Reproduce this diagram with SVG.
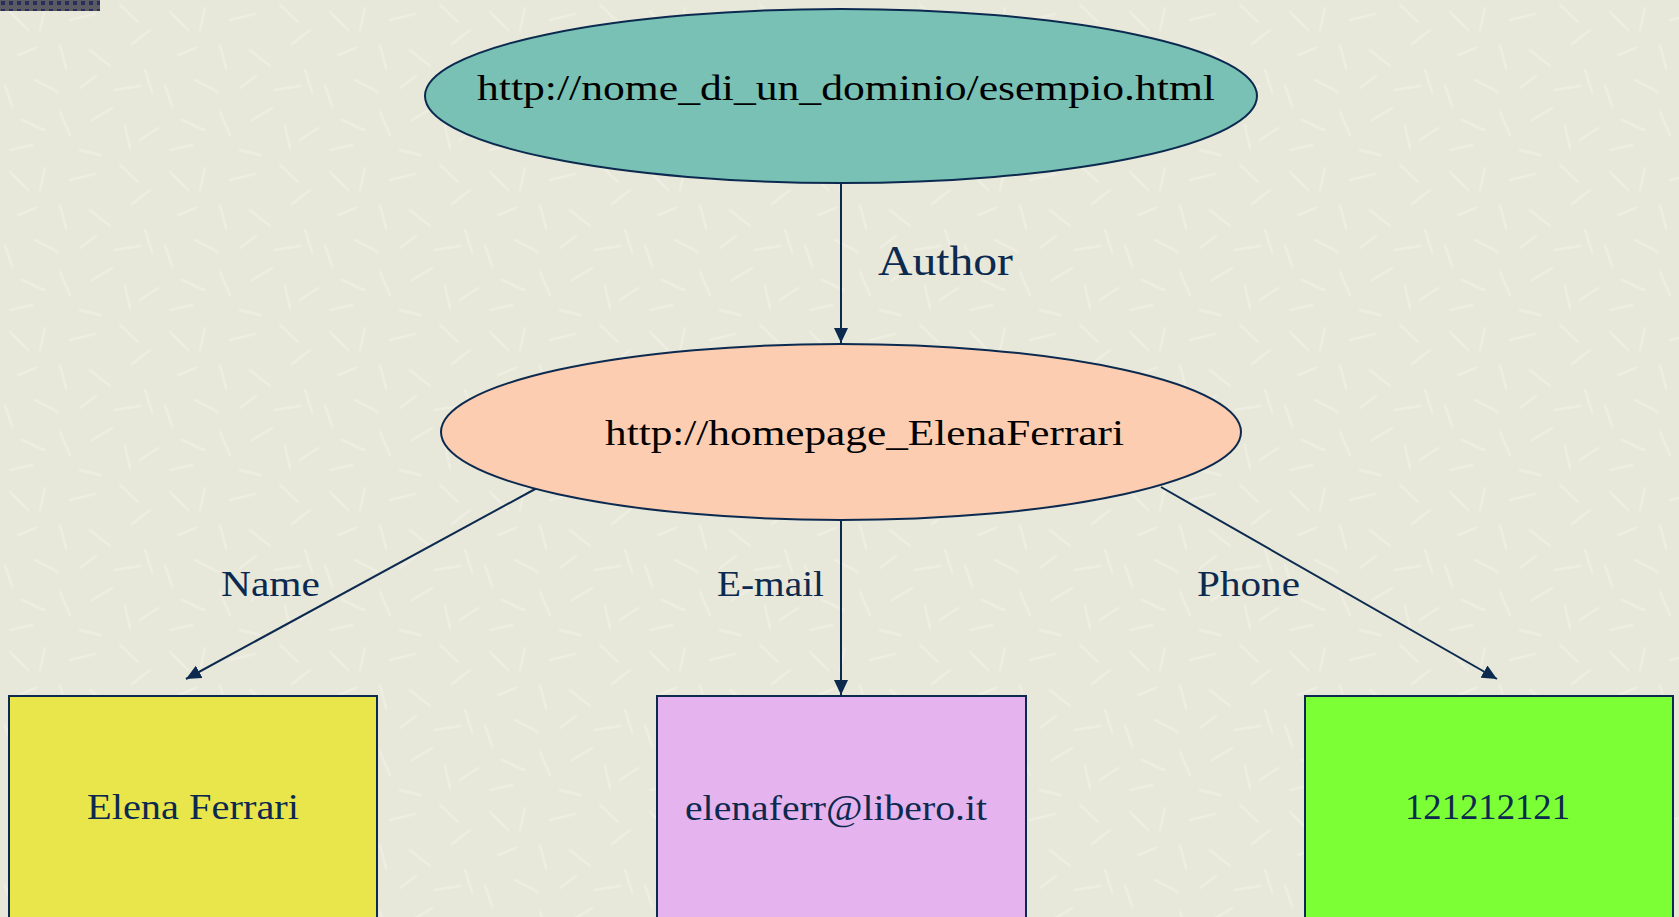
<svg xmlns="http://www.w3.org/2000/svg" width="1679" height="917" viewBox="0 0 1679 917">
  <defs>
    <pattern id="tex" width="160" height="160" patternUnits="userSpaceOnUse">
      <rect width="160" height="160" fill="#e7e7da"/>
      <g stroke="#f2f2e7" stroke-width="2.5" stroke-linecap="round" opacity="0.55">
        <line x1="10" y1="12" x2="28" y2="30"/>
        <line x1="45" y1="8" x2="40" y2="30"/>
        <line x1="70" y1="20" x2="95" y2="14"/>
        <line x1="120" y1="5" x2="138" y2="22"/>
        <line x1="150" y1="30" x2="132" y2="44"/>
        <line x1="18" y1="55" x2="36" y2="48"/>
        <line x1="60" y1="45" x2="66" y2="68"/>
        <line x1="90" y1="50" x2="110" y2="66"/>
        <line x1="5" y1="85" x2="12" y2="106"/>
        <line x1="35" y1="80" x2="58" y2="92"/>
        <line x1="80" y1="88" x2="96" y2="76"/>
        <line x1="115" y1="90" x2="140" y2="86"/>
        <line x1="145" y1="70" x2="152" y2="92"/>
        <line x1="22" y1="120" x2="44" y2="130"/>
        <line x1="60" y1="112" x2="70" y2="135"/>
        <line x1="92" y1="120" x2="112" y2="108"/>
        <line x1="125" y1="125" x2="130" y2="148"/>
        <line x1="10" y1="150" x2="32" y2="145"/>
        <line x1="80" y1="150" x2="100" y2="155"/>
        <line x1="140" y1="140" x2="158" y2="128"/>
      </g>
    </pattern>
    <pattern id="dots" width="8" height="8" patternUnits="userSpaceOnUse">
      <rect width="8" height="8" fill="#5a5a62"/>
      <rect x="1" y="1" width="4" height="4" fill="#2a2c5a"/>
    </pattern>
    <marker id="arr" viewBox="0 0 15 14" refX="15" refY="7" markerWidth="15" markerHeight="14" markerUnits="userSpaceOnUse" orient="auto">
      <path d="M0,0 L15,7 L0,14 Z" fill="#0c2a4f"/>
    </marker>
  </defs>
  <style>
    .edge { stroke: #0c2a4f; stroke-width: 2; fill: none; marker-end: url(#arr); }
    .shape { stroke: #0c2a4f; stroke-width: 2; }
    .t { font-family: "Liberation Serif", "DejaVu Serif", serif; font-size: 36px; }
    .dark { fill: #000000; }
    .navy { fill: #0c2a4f; }
  </style>
  <rect width="1679" height="917" fill="url(#tex)"/>
  <rect x="0" y="0" width="100" height="11" fill="url(#dots)"/>

  <g id="connectors">
    <line class="edge" x1="841" y1="183" x2="841" y2="343"/>
    <line class="edge" x1="841" y1="520" x2="841" y2="695"/>
    <line class="edge" x1="537" y1="488" x2="186" y2="679"/>
    <line class="edge" x1="1161" y1="487" x2="1497" y2="679"/>
    <text class="t navy" x="878" y="275" textLength="135" lengthAdjust="spacingAndGlyphs" style="font-size:42px">Author</text>
    <text class="t navy" x="221" y="596" textLength="99" lengthAdjust="spacingAndGlyphs">Name</text>
    <text class="t navy" x="717" y="596" textLength="107" lengthAdjust="spacingAndGlyphs">E-mail</text>
    <text class="t navy" x="1197" y="596" textLength="103" lengthAdjust="spacingAndGlyphs">Phone</text>
  </g>

  <g id="node-resource">
    <ellipse class="shape" cx="841" cy="96" rx="416" ry="87" fill="#78c1b4"/>
    <text class="t dark" x="477" y="100" textLength="738" lengthAdjust="spacingAndGlyphs">http://nome_di_un_dominio/esempio.html</text>
  </g>

  <g id="node-homepage">
    <ellipse class="shape" cx="841" cy="432" rx="400" ry="88" fill="#fccdb1"/>
    <text class="t dark" x="605" y="445" textLength="519" lengthAdjust="spacingAndGlyphs">http://homepage_ElenaFerrari</text>
  </g>

  <g id="node-name">
    <rect class="shape" x="9" y="696" width="368" height="240" fill="#e9e64c"/>
    <text class="t navy" x="87" y="819" textLength="212" lengthAdjust="spacingAndGlyphs">Elena Ferrari</text>
  </g>

  <g id="node-email">
    <rect class="shape" x="657" y="696" width="369" height="240" fill="#e5b3ed"/>
    <text class="t navy" x="685" y="820" textLength="302" lengthAdjust="spacingAndGlyphs">elenaferr@libero.it</text>
  </g>

  <g id="node-phone">
    <rect class="shape" x="1305" y="696" width="368" height="240" fill="#7cff35"/>
    <text class="t navy" x="1405" y="819" textLength="165" lengthAdjust="spacingAndGlyphs">121212121</text>
  </g>
</svg>
